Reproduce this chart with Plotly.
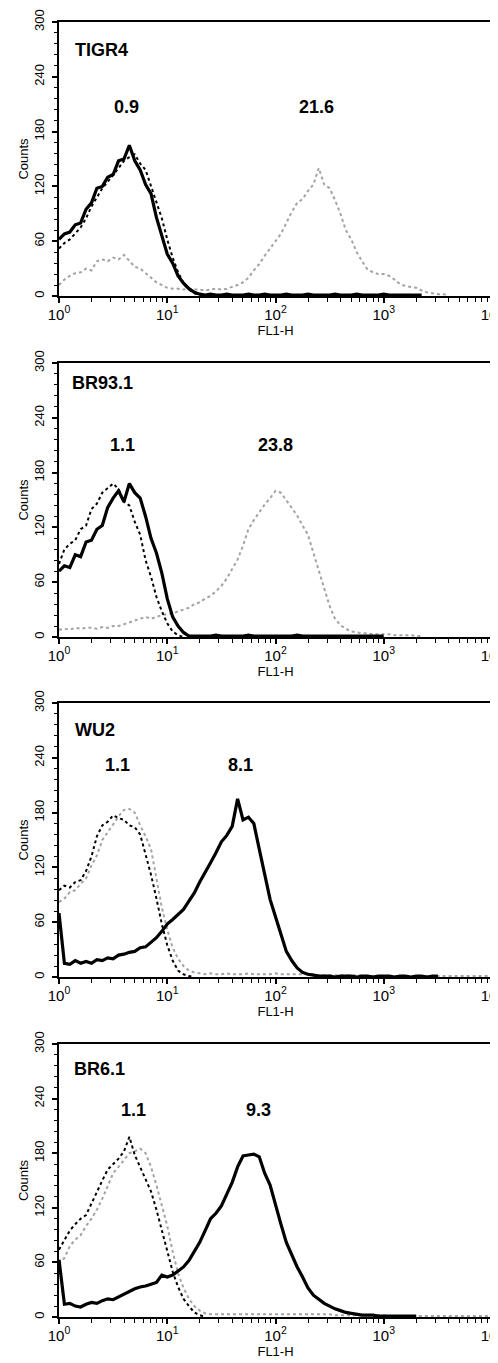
import plotly.graph_objects as go
from plotly.subplots import make_subplots

# ---------------- data ----------------
# histogram channel positions (log10 of FL1-H), 0.05-decade bins
log_channels = [i / 20 for i in range(81)]

strains = ["TIGR4", "BR93.1", "WU2", "BR6.1"]
label_left = ["0.9", "1.1", "1.1", "1.1"]
label_right = ["21.6", "23.8", "8.1", "9.3"]

tigr4_solid = [62, 68, 70, 78, 80, 95, 102, 118, 120, 130, 133, 148, 150, 165, 148, 138, 122, 112, 86, 66,
               46, 36, 22, 14, 8, 4, 2,
               1, 2, 1, 1, 2, 1, 1, 1, 2, 1, 1, 2, 1, 1, 1, 2, 1, 1, 1, 2, 1, 1, 1, 1, 2, 1, 1, 1, 2, 1,
               1, 1, 1, 2, 1, 1, 1, 1, 1, 1, 1]
tigr4_dotted = [52, 58, 62, 68, 75, 85, 98, 108, 118, 125, 132, 140, 148, 152, 155, 145, 138, 120, 102, 85,
                62, 42, 26, 14, 7, 3, 1, 0]
tigr4_gray = [12, 18, 22, 25, 26, 30, 28, 38, 40, 38, 42, 40, 45, 38, 32, 30, 25, 20, 15, 12, 9,
              8, 8, 7, 8, 7, 7, 6, 7, 8, 7, 8, 10, 12,
              15, 20, 28, 35, 44, 52, 60, 68, 80, 92, 102, 106, 115, 122, 140, 122, 118, 105, 90, 72,
              62, 48, 38, 29, 26, 24, 24, 22, 18, 13, 11, 10, 9, 6, 4, 3, 2, 2, 1]

br93_solid = [72, 78, 76, 90, 88, 104, 106, 118, 122, 142, 152, 160, 148, 168, 158, 152, 132, 108, 92, 70,
              42, 22, 12, 5, 1,
              1, 1, 1, 1, 2, 1, 1, 1, 1, 1, 2, 1, 1, 1, 1, 1, 1, 1, 1, 2, 1, 1, 1, 1, 1, 1, 1, 1, 1,
              1, 1, 1, 1, 1, 1, 1]
br93_dotted = [80, 96, 102, 106, 118, 122, 140, 146, 158, 163, 168, 162, 148, 144, 126, 112, 84, 66, 44, 28,
               15, 6, 2, 0]
br93_gray = [8, 9, 8, 10, 9, 10, 10, 9, 11, 10, 12, 12, 14, 16, 18, 20, 22, 20, 22, 24, 25,
             26, 28, 30, 32, 36, 38, 42, 45, 50, 56, 64, 75, 85, 100, 118, 128, 137, 145, 152, 160,
             158, 150, 142, 133, 122, 112, 92, 72, 54, 34, 20, 13, 9, 6, 5, 4, 4, 3, 3, 3, 3, 2, 2, 2, 2, 1, 1]

wu2_solid = [70, 15, 14, 18, 15, 17, 15, 19, 18, 21, 20, 24, 25, 27, 28, 32, 33, 38, 43, 50,
             58, 63, 68, 74, 83, 92, 104, 114, 125, 136, 148, 155, 165, 195, 172, 175, 168, 140, 112, 85,
             66, 46, 28, 18, 10, 5, 3, 2, 1,
             1, 1, 0, 1, 1, 1, 0, 1, 1, 0, 1, 1, 1, 0, 1, 1, 0, 1, 1, 0, 1, 1]
wu2_dotted = [95, 100, 98, 104, 106, 116, 132, 154, 166, 170, 177, 174, 172, 166, 164, 156, 134, 112, 86, 58,
              35, 18, 7, 3, 1, 0]
wu2_gray = [82, 86, 93, 95, 102, 108, 122, 133, 150, 158, 167, 176, 183, 184, 180, 166, 154, 140, 110, 76,
            52, 32, 20, 12, 7, 5, 4,
            3, 4, 3, 3, 4, 3, 3, 3, 4, 3, 3, 3, 3, 4, 3, 3, 3, 3, 3, 3, 3, 2, 2, 2, 2, 2, 2, 2, 2, 2,
            1, 1, 1, 1, 1, 1, 1, 1, 1, 1, 1, 1, 1, 1, 1, 1, 1, 1, 1, 1, 1, 1, 1, 1]

br61_solid = [63, 14, 15, 12, 11, 14, 16, 15, 18, 20, 19, 22, 25, 28, 31, 33, 34, 36, 38, 46,
              44, 46, 50, 55, 62, 72, 82, 95, 108, 114, 122, 135, 148, 165, 177, 178, 179, 176, 158, 145,
              122, 102, 82, 68, 55, 44, 32, 24, 19, 15, 12, 9, 7, 5, 4, 3, 2, 2, 2, 1,
              1, 1, 1, 1, 1, 1, 1]
br61_dotted = [74, 85, 95, 102, 108, 112, 125, 138, 150, 162, 168, 174, 182, 198, 178, 165, 152, 138, 118, 95,
               70, 50, 33, 20, 12, 5, 2, 0]
br61_gray = [58, 65, 78, 85, 90, 100, 108, 118, 130, 145, 158, 165, 172, 180, 182, 185, 180, 165, 145, 122,
             100, 72, 48, 32, 20, 12, 7, 4,
             3, 3, 3, 3, 3, 3, 3, 3, 3, 3, 3, 3, 3, 3, 3, 3, 3, 3, 3, 3, 3, 3, 3,
             2, 2, 2, 2, 2, 2, 2, 2, 2, 2,
             1, 1, 1, 1, 1, 1, 1, 1, 1, 1, 1, 1, 1, 1, 1, 1, 1, 1, 1, 1]

panels = [
    (tigr4_gray, tigr4_dotted, tigr4_solid),
    (br93_gray, br93_dotted, br93_solid),
    (wu2_gray, wu2_dotted, wu2_solid),
    (br61_gray, br61_dotted, br61_solid),
]

x_tickvals = [1, 10, 100, 1000, 10000]
x_ticktext = ["10<sup>0</sup>", "10<sup>1</sup>", "10<sup>2</sup>", "10<sup>3</sup>", "10<sup>4</sup>"]
y_tickvals = [0, 60, 120, 180, 240, 300]

# ---------------- layout helpers (positions / styles) ----------------
FONT = "Liberation Sans, Arial, sans-serif"
# figure is drawn 8px in from the page's top-left (default body margin)
FIG_W, FIG_H = 490, 1355
M_L, M_R, M_T, M_B = 51, 6, 14, 46
plot_h = FIG_H - M_T - M_B
# panel tops/bottoms in page pixels
panel_px = [(22, 296), (363, 637), (703, 977), (1044, 1317)]
domains = [((FIG_H + 8 - M_B - b) / plot_h, (FIG_H + 8 - M_B - t) / plot_h) for t, b in panel_px]
domains = [(max(0.0, lo), min(1.0, hi)) for lo, hi in domains]

name_pos = [(0.13, 269), (0.10, 278), (0.13, 270), (0.12, 272)]
left_pos = [(0.62, 207), (0.59, 210), (0.54, 232), (0.69, 227)]
right_pos = [(2.38, 207), (2.00, 210), (1.68, 232), (1.84, 227)]

fig = make_subplots(rows=4, cols=1)

for i, (gray, dotted, solid) in enumerate(panels):
    r = i + 1
    for vals, color, width, dash in [
        (gray, "#a3a3a3", 2, "dot"),
        (dotted, "black", 2, "dot"),
        (solid, "black", 3.2, "solid"),
    ]:
        xs = [10 ** v for v in log_channels[:len(vals)]]
        fig.add_trace(go.Scatter(x=xs, y=vals, mode="lines",
                                 line=dict(color=color, width=width, dash=dash),
                                 showlegend=False, hoverinfo="skip", cliponaxis=False), row=r, col=1)

    ax = "" if r == 1 else str(r)
    fig.update_layout(**{
        f"xaxis{ax}": dict(
            type="log", range=[0, 4], domain=[0, 1], automargin=False,
            tickmode="array", tickvals=x_tickvals, ticktext=x_ticktext,
            ticks="outside", ticklen=5, tickwidth=1.5, tickcolor="black",
            ticklabeloverflow="allow", ticklabelstandoff=-1,
            showline=True, linecolor="black", linewidth=1.5, mirror=True,
            showgrid=False, zeroline=False,
            minor=dict(ticks="outside", ticklen=4, tickwidth=1, tickcolor="black",
                       dtick="D1", showgrid=False),
            tickfont=dict(family=FONT, size=15, color="black"),
            title=dict(text="FL1-H", font=dict(family=FONT, size=13, color="black"), standoff=0),
        ),
        f"yaxis{ax}": dict(
            range=[0, 300], domain=list(domains[i]), automargin=False,
            tickmode="array", tickvals=y_tickvals, tickangle=-90,
            ticks="outside", ticklen=5, tickwidth=1.5, tickcolor="black",
            ticklabelstandoff=3,
            showline=True, linecolor="black", linewidth=1.5, mirror=True,
            showgrid=False, zeroline=False,
            minor=dict(ticks="outside", ticklen=3, tickwidth=1, tickcolor="black",
                       dtick=12, showgrid=False),
            tickfont=dict(family=FONT, size=13, color="black"),
            title=dict(text="Counts", font=dict(family=FONT, size=13, color="black"), standoff=0),
        ),
    })

    xr, yr = f"x{ax}", f"y{ax}"
    fig.add_annotation(x=name_pos[i][0], y=name_pos[i][1], xref=xr, yref=yr,
                       text=f"<b>{strains[i]}</b>", showarrow=False, xanchor="left",
                       font=dict(family=FONT, size=18, color="black"))
    fig.add_annotation(x=left_pos[i][0], y=left_pos[i][1], xref=xr, yref=yr,
                       text=f"<b>{label_left[i]}</b>", showarrow=False,
                       font=dict(family=FONT, size=18, color="black"))
    fig.add_annotation(x=right_pos[i][0], y=right_pos[i][1], xref=xr, yref=yr,
                       text=f"<b>{label_right[i]}</b>", showarrow=False,
                       font=dict(family=FONT, size=18, color="black"))

fig.update_layout(
    width=FIG_W, height=FIG_H,
    margin=dict(l=M_L, r=M_R, t=M_T, b=M_B),
    paper_bgcolor="white", plot_bgcolor="white",
    font=dict(family=FONT, color="black"),
)

fig.write_html("out.html")
